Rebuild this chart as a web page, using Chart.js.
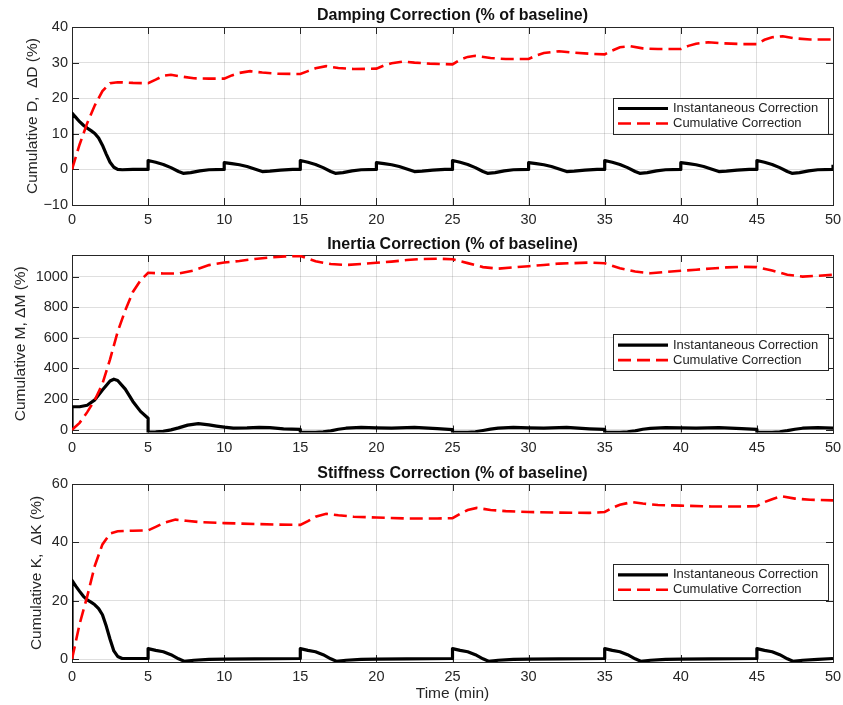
<!DOCTYPE html>
<html>
<head>
<meta charset="utf-8">
<script src="https://cdn.jsdelivr.net/npm/chart.js@4.4.1/dist/chart.umd.min.js"></script>
<style>
  html, body { margin: 0; padding: 0; background: #fff; }
  #wrap { position: relative; width: 843px; height: 705px; }
  canvas { position: absolute; left: 0; }
</style>
</head>
<body>
<div id="wrap">
  <canvas id="c1" width="843" height="230" style="top:0px"></canvas>
  <canvas id="c2" width="843" height="230" style="top:230px"></canvas>
  <canvas id="c3" width="843" height="245" style="top:460px"></canvas>
</div>
<script>
// ---- data: [time (min), value (%)] ----
const timeTicks = [0, 5, 10, 15, 20, 25, 30, 35, 40, 45, 50];
const dampTicks = [-10, 0, 10, 20, 30, 40];
const massTicks = [0, 200, 400, 600, 800, 1000];
const stiffTicks = [0, 20, 40, 60];
const seriesNames = ['Instantaneous Correction', 'Cumulative Correction'];

const dampInst = [
  [0,0],[0,15.8],[0.25,14.6],[0.5,13.4],[0.75,12.4],[1,11.6],[1.25,10.9],[1.5,10.1],[1.75,8.8],[2,6.8],[2.25,4.3],[2.5,2.0],[2.75,0.6],[3,0],[3.3,-0.1],[4,0],[5,0],
  [5,2.5],[5.5,2.0],[6,1.4],[6.5,0.5],[7,-0.6],[7.3,-1.1],[7.8,-0.9],[8.4,-0.4],[9,-0.1],[10,0],
  [10,1.9],[10.5,1.6],[11,1.3],[11.5,0.8],[12,0.1],[12.5,-0.6],[13,-0.5],[13.7,-0.2],[14.5,0],[15,0],
  [15,2.5],[15.5,2.0],[16,1.4],[16.5,0.5],[17,-0.6],[17.3,-1.1],[17.8,-0.9],[18.4,-0.4],[19,-0.1],[20,0],
  [20,1.9],[20.5,1.6],[21,1.3],[21.5,0.8],[22,0.1],[22.5,-0.6],[23,-0.5],[23.7,-0.2],[24.5,0],[25,0],
  [25,2.5],[25.5,2.0],[26,1.4],[26.5,0.5],[27,-0.6],[27.3,-1.1],[27.8,-0.9],[28.4,-0.4],[29,-0.1],[30,0],
  [30,1.9],[30.5,1.6],[31,1.3],[31.5,0.8],[32,0.1],[32.5,-0.6],[33,-0.5],[33.7,-0.2],[34.5,0],[35,0],
  [35,2.5],[35.5,2.0],[36,1.4],[36.5,0.5],[37,-0.6],[37.3,-1.1],[37.8,-0.9],[38.4,-0.4],[39,-0.1],[40,0],
  [40,1.9],[40.5,1.6],[41,1.3],[41.5,0.8],[42,0.1],[42.5,-0.6],[43,-0.5],[43.7,-0.2],[44.5,0],[45,0],
  [45,2.5],[45.5,2.0],[46,1.4],[46.5,0.5],[47,-0.6],[47.3,-1.1],[47.8,-0.9],[48.4,-0.4],[49,-0.1],[50,0],[50,1.3]
];
const dampCum = [
  [0,0],[0.5,7],[1,13],[1.5,18],[2,22],[2.5,24.2],[3,24.5],[4,24.3],[5,24.2],[5.5,25.2],[6,26.3],[6.5,26.6],[7,26.2],[8,25.6],[9,25.5],[10,25.5],
  [10.5,26.4],[11,27.1],[11.7,27.6],[12.5,27.2],[13.5,26.9],[15,26.8],[15.5,27.6],[16,28.4],[16.7,29.0],[17.5,28.5],[18.5,28.2],[20,28.3],
  [20.5,29.2],[21,29.8],[21.8,30.3],[22.5,30.0],[23.5,29.7],[25,29.5],[25.5,30.8],[26,31.6],[26.5,31.9],[27.5,31.3],[28.5,31.0],[30,31.0],
  [30.5,32.0],[31,32.7],[32,33.2],[33,32.8],[34,32.5],[35,32.3],[35.5,33.4],[36,34.3],[36.7,34.6],[37.5,34.0],[38.5,33.8],[40,33.8],
  [40.5,34.7],[41,35.3],[41.8,35.7],[42.8,35.4],[44,35.2],[45,35.2],[45.5,36.4],[46,37.1],[46.7,37.4],[47.5,36.8],[48.5,36.5],[50,36.5]
];

const massInst = [
  [0,0],[0,150],[0.5,150],[1,160],[1.5,195],[2,260],[2.5,318],[2.75,330],[3,322],[3.5,265],[4,185],[4.5,120],[5,75],
  [5,-15],[5.5,-14],[6,-11],[6.5,-1],[7,12],[7.6,30],[8.3,40],[9,32],[9.5,24],[10,17],[10.6,11],[11.5,12],[12.3,16],[13,14],[13.9,6],[15,3],
  [15,-16],[16,-17],[16.5,-13],[17,-7],[17.5,3],[18,10],[19,15],[20,12],[21,11],[22.5,15],[24,7],[25,1],
  [25,-16],[26,-17],[26.5,-13],[27,-5],[27.5,4],[28,10],[29,15],[30,12],[31,11],[32.5,15],[34,6],[35,2],
  [35,-16],[36,-17],[36.5,-13],[37,-7],[37.5,3],[38,9],[39,14],[40,12],[41,11],[42.5,14],[44,7],[45,2],
  [45,-16],[46,-17],[46.5,-13],[47,-6],[47.5,3],[48,10],[49,14],[50,11]
];
const massCum = [
  [0,0],[0.5,45],[1,115],[1.5,195],[2,300],[2.5,460],[3,640],[3.5,780],[4,900],[4.5,975],[5,1025],[6,1020],[7,1020],[8,1040],[9,1075],[10,1092],
  [11,1102],[12,1115],[13,1125],[14,1132],[15,1135],[16,1100],[17,1082],[18,1076],[19,1082],[20,1090],[21,1098],[22,1108],[23,1115],[24,1117],[25,1113],
  [26,1088],[27,1062],[28,1052],[29,1060],[30,1068],[31,1076],[32,1085],[33,1088],[34,1092],[35,1087],[36,1055],[37,1033],[38,1022],[39,1030],[40,1038],
  [41,1045],[42,1053],[43,1060],[44,1064],[45,1062],[46,1040],[47,1012],[48,1000],[49,1005],[50,1012]
];

const stiffInst = [
  [0,0],[0,27],[0.25,25],[0.5,23.2],[0.75,21.5],[1,20.3],[1.25,19.5],[1.5,18.6],[1.75,17.3],[2,15.2],[2.25,11.3],[2.5,6.8],[2.75,2.8],[3,0.9],[3.3,0.2],[4,0.2],[5,0.2],
  [5,3.6],[5.5,3.0],[6,2.5],[6.5,1.5],[7,0.1],[7.4,-0.8],[8,-0.4],[9,-0.1],[10,0],[12,0.1],[15,0.2],
  [15,3.6],[15.5,3.0],[16,2.5],[16.5,1.5],[17,0.1],[17.4,-0.8],[18,-0.4],[19,-0.1],[20,0],[22,0.1],[25,0.2],
  [25,3.6],[25.5,3.0],[26,2.5],[26.5,1.5],[27,0.1],[27.4,-0.8],[28,-0.4],[29,-0.1],[30,0],[32,0.1],[35,0.2],
  [35,3.6],[35.5,3.0],[36,2.5],[36.5,1.5],[37,0.1],[37.4,-0.8],[38,-0.4],[39,-0.1],[40,0],[42,0.1],[45,0.2],
  [45,3.6],[45.5,3.0],[46,2.5],[46.5,1.5],[47,0.1],[47.4,-0.8],[48,-0.4],[49,-0.1],[50,0.2]
];
const stiffCum = [
  [0,0],[0.5,12],[1,21.5],[1.5,32],[2,39.3],[2.5,43],[3,43.8],[4,44],[5,44.1],[5.5,45.3],[6,46.6],[6.8,47.8],[7.5,47.4],[8.5,46.9],[10,46.6],[12,46.3],[13.5,46.1],[15,46],
  [15.5,47.3],[16,48.8],[16.7,49.8],[17.5,49.3],[18.5,48.8],[20,48.5],[22,48.2],[24,48.2],[25,48.3],
  [25.5,49.8],[26,51.1],[26.6,51.8],[27.5,51.1],[28.5,50.7],[30,50.4],[32,50.2],[34,50.1],[35,50.4],
  [35.5,51.8],[36,52.9],[36.8,53.8],[37.5,53.3],[38.5,52.8],[40,52.6],[42,52.3],[44,52.3],[45,52.4],
  [45.5,53.8],[46,54.8],[46.6,55.8],[47.5,55.0],[48.5,54.6],[50,54.4]
];

Chart.defaults.font.family = '"Liberation Sans", Arial, Helvetica, sans-serif';
Chart.defaults.color = '#262626';

const toXY = arr => arr.map(p => ({x: p[0], y: p[1]}));
const fmt = v => v < 0 ? '\u2212' + (-v) : String(v);

// box + inward tick marks like matlab
const axesFrame = {
  id: 'axesFrame',
  beforeDatasetsDraw(chart) {
    const {ctx, chartArea: a, scales: {x, y}} = chart;
    const len = 7;
    ctx.save();
    ctx.strokeStyle = '#262626';
    ctx.lineWidth = 1;
    ctx.beginPath();
    x.ticks.forEach(t => {
      const px = Math.round(x.getPixelForValue(t.value)) + 0.5;
      ctx.moveTo(px, a.bottom); ctx.lineTo(px, a.bottom - len);
      ctx.moveTo(px, a.top); ctx.lineTo(px, a.top + len);
    });
    y.ticks.forEach(t => {
      const py = Math.round(y.getPixelForValue(t.value)) + 0.5;
      ctx.moveTo(a.left, py); ctx.lineTo(a.left + len, py);
      ctx.moveTo(a.right, py); ctx.lineTo(a.right - len, py);
    });
    ctx.stroke();
    ctx.strokeRect(Math.round(a.left) + 0.5, Math.round(a.top) + 0.5,
      Math.round(a.right - a.left), Math.round(a.bottom - a.top));
    ctx.restore();
  }
};

const panelTitle = {
  id: 'panelTitle',
  afterDraw(chart, args, opts) {
    const {ctx, chartArea: a} = chart;
    ctx.save();
    ctx.font = 'bold 16px "Liberation Sans", Arial, sans-serif';
    ctx.fillStyle = '#111';
    ctx.textAlign = 'center';
    ctx.textBaseline = 'middle';
    ctx.fillText(opts.text, (a.left + a.right) / 2, opts.y);
    ctx.restore();
  }
};

const boxLegend = {
  id: 'boxLegend',
  afterDatasetsDraw(chart, args, opts) {
    const {ctx} = chart;
    const w = 215, h = 36;
    const left = chart.chartArea.right - 5 - w, top = opts.top;
    ctx.save();
    ctx.fillStyle = '#fff';
    ctx.fillRect(left, top, w, h);
    ctx.strokeStyle = '#262626';
    ctx.lineWidth = 1;
    ctx.strokeRect(Math.round(left) + 0.5, Math.round(top) + 0.5, w, h);
    ctx.font = '13px "Liberation Sans", Arial, sans-serif';
    ctx.textBaseline = 'middle';
    ctx.textAlign = 'left';
    chart.data.datasets.forEach((ds, i) => {
      const yy = top + 10.8 + i * 15;
      ctx.beginPath();
      ctx.strokeStyle = ds.borderColor;
      ctx.lineWidth = ds.borderWidth;
      ctx.setLineDash(ds.borderDash || []);
      ctx.moveTo(left + 5, yy);
      ctx.lineTo(left + 55, yy);
      ctx.stroke();
      ctx.setLineDash([]);
      ctx.fillStyle = '#222';
      ctx.fillText(ds.label, left + 60, yy);
    });
    ctx.restore();
  }
};

function makePanel(id, cfg) {
  const gridColor = 'rgba(38,38,38,0.15)';
  return new Chart(document.getElementById(id), {
    type: 'line',
    data: {
      datasets: [
        {label: seriesNames[0], data: toXY(cfg.inst), borderColor: '#000000', borderWidth: 3.2,
         pointRadius: 0, tension: 0, borderJoinStyle: 'round', order: 2},
        {label: seriesNames[1], data: toXY(cfg.cum), borderColor: '#ff0000', borderWidth: 2.6,
         borderDash: [13, 6], pointRadius: 0, tension: 0, order: 1}
      ]
    },
    options: {
      responsive: false,
      animation: false,
      layout: {autoPadding: false, padding: {top: cfg.padTop, right: 10, left: 0, bottom: 0}},
      plugins: {
        legend: {display: false},
        tooltip: {enabled: false},
        panelTitle: {text: cfg.title, y: cfg.titleY},
        boxLegend: {top: cfg.legendTop}
      },
      scales: {
        x: {
          type: 'linear', min: 0, max: 50,
          afterBuildTicks: s => { s.ticks = timeTicks.map(v => ({value: v})); },
          afterFit: s => { s.height = cfg.xHeight; s.paddingLeft = 0; s.paddingRight = 0; },
          grid: {color: gridColor, drawTicks: false},
          border: {display: false},
          ticks: {padding: 6.5, font: {size: 14.5}, color: '#262626', maxRotation: 0},
          title: {display: cfg.xTitle, text: 'Time (min)', font: {size: 15.5}, color: '#262626',
                  padding: {top: 0, bottom: 1.5}}
        },
        y: {
          type: 'linear', min: cfg.yMin, max: cfg.yMax,
          afterBuildTicks: s => { s.ticks = cfg.ticks.map(v => ({value: v})); },
          afterFit: s => { s.width = 72; s.paddingTop = 0; s.paddingBottom = 0; },
          grid: {color: gridColor, drawTicks: false},
          border: {display: false},
          ticks: {padding: 4, font: {size: 14.5}, color: '#262626', callback: v => fmt(v)},
          title: {display: true, text: cfg.yLabel, font: {size: 15.5}, color: '#262626',
                  padding: {top: cfg.yTitlePad, bottom: 0}}
        }
      }
    },
    plugins: [axesFrame, panelTitle, boxLegend]
  });
}

makePanel('c1', {
  title: 'Damping Correction (% of baseline)', yLabel: 'Cumulative D,  \u0394D (%)',
  inst: dampInst, cum: dampCum, ticks: dampTicks, yMin: -10, yMax: 40,
  padTop: 27, xHeight: 25, yTitlePad: 23.5, titleY: 15.3, legendTop: 97.7, xTitle: false
});
makePanel('c2', {
  title: 'Inertia Correction (% of baseline)', yLabel: 'Cumulative M, \u0394M (%)',
  inst: massInst, cum: massCum, ticks: massTicks, yMin: -18, yMax: 1141,
  padTop: 25, xHeight: 27.5, yTitlePad: 11.3, titleY: 14.3, legendTop: 104.3, xTitle: false
});
makePanel('c3', {
  title: 'Stiffness Correction (% of baseline)', yLabel: 'Cumulative K,  \u0394K (%)',
  inst: stiffInst, cum: stiffCum, ticks: stiffTicks, yMin: -1, yMax: 60,
  padTop: 24, xHeight: 43, yTitlePad: 27.6, titleY: 13.8, legendTop: 104, xTitle: true
});
</script>
</body>
</html>
